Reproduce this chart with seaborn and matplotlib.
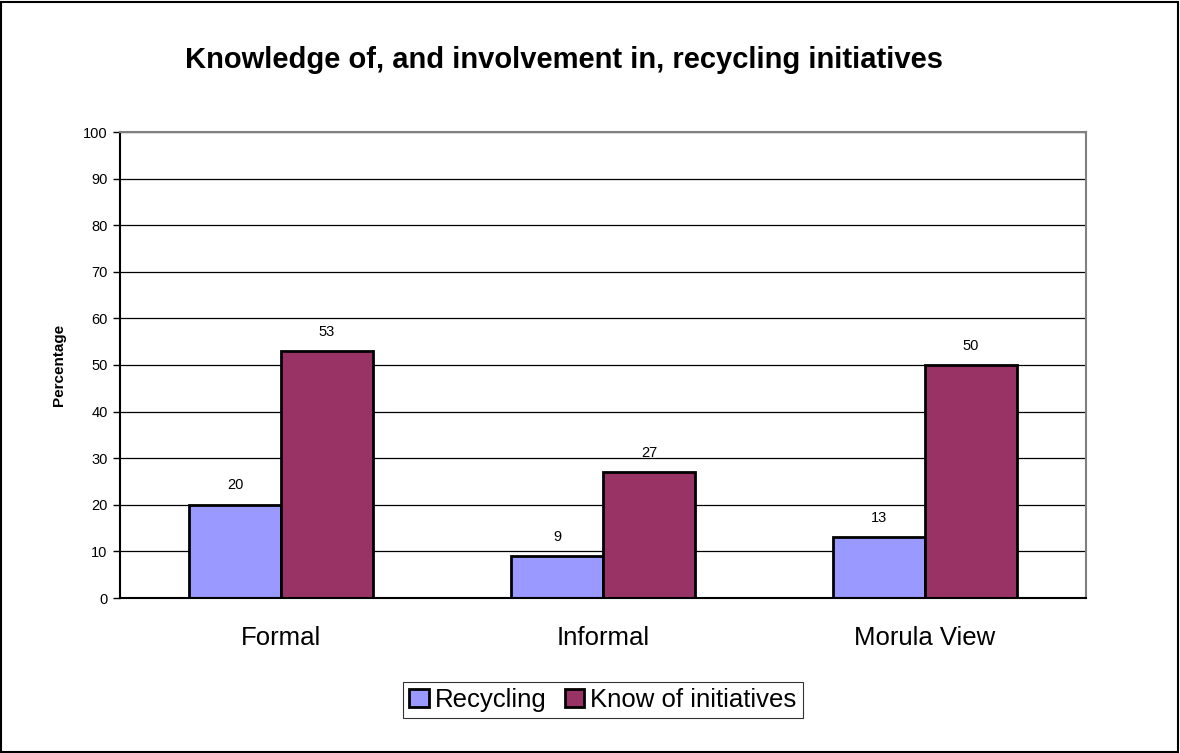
import matplotlib
matplotlib.use("Agg")
import matplotlib.pyplot as plt
import seaborn as sns
import pandas as pd
from matplotlib.patches import Rectangle

categories = ["Formal", "Informal", "Morula View"]
series_names = ["Recycling", "Know of initiatives"]
recycling = [20, 9, 13]
know = [53, 27, 50]
yticks = list(range(0, 101, 10))

df = pd.DataFrame({
    "category": categories * 2,
    "series": [series_names[0]] * 3 + [series_names[1]] * 3,
    "value": recycling + know,
})

sns.set_theme(style="white")
plt.rcParams['font.family'] = ['Liberation Sans', 'DejaVu Sans']
plt.rcParams['text.color'] = 'black'
plt.rcParams['axes.labelcolor'] = 'black'
plt.rcParams['xtick.color'] = 'black'
plt.rcParams['ytick.color'] = 'black'

W, H = 1180, 753
fig = plt.figure(figsize=(W / 100, H / 100), dpi=100)
ax = fig.add_axes([120 / W, 1 - 598 / H, (1086 - 120) / W, (598 - 132) / H])

palette = {"Recycling": "#9999FF", "Know of initiatives": "#993366"}
sns.barplot(data=df, x="category", y="value", hue="series", order=categories,
            hue_order=series_names, palette=palette, width=0.571, ax=ax,
            edgecolor="black", linewidth=2, saturation=1, legend=True, errorbar=None)

ax.set_ylim(0, 100)
ax.set_xlim(-0.5, 2.5)
ax.set_yticks(yticks)
ax.set_yticklabels([str(t) for t in yticks], fontsize=10.5)
for t in yticks[1:]:
    ax.axhline(t, color="black", linewidth=0.9, zorder=0)

ax.set_xticks(range(3))
ax.set_xticklabels(categories, fontsize=18.5)
ax.tick_params(axis="x", which="major", length=0, pad=20)
ax.set_xticks([-0.5, 0.5, 1.5, 2.5], minor=True)
ax.tick_params(axis="x", which="minor", length=6, width=1, color="black", direction="out")
ax.tick_params(axis="y", length=5, width=1, color="black", direction="out", pad=4, left=True)
ax.set_xlabel("")
ax.set_ylabel("Percentage", fontsize=11, fontweight="bold", labelpad=12, color="black")

for side in ["left", "bottom"]:
    ax.spines[side].set_visible(True)
    ax.spines[side].set_color("black")
    ax.spines[side].set_linewidth(1.5)
for side in ["top", "right"]:
    ax.spines[side].set_visible(True)
    ax.spines[side].set_color("#808080")
    ax.spines[side].set_linewidth(1.5)

for cont in ax.containers:
    ax.bar_label(cont, labels=[f"{v:.0f}" for v in cont.datavalues],
                 padding=9, fontsize=10.5, color="black")

leg = ax.legend(loc="center", bbox_to_anchor=(0.5, (598 - 700) / (598 - 132)),
                ncol=2, fontsize=18.5, frameon=True, fancybox=False, edgecolor="black",
                handlelength=0.75, handleheight=0.75, handletextpad=0.25, columnspacing=0.7,
                borderpad=0.25, borderaxespad=0)
leg.get_frame().set_linewidth(0.8)
for txt in leg.get_texts():
    txt.set_color("black")
for h in leg.legend_handles:
    h.set_edgecolor("black")
    h.set_linewidth(2)

fig.text(564 / W, 1 - 60 / H, "Knowledge of, and involvement in, recycling initiatives",
         ha="center", va="center", fontsize=21, fontweight="bold", color="black")

fig.patches.append(Rectangle((0.001, 0.001), 0.997, 0.997, transform=fig.transFigure,
                             fill=False, edgecolor="black", linewidth=1.5))

fig.savefig("out.png", dpi=100)
